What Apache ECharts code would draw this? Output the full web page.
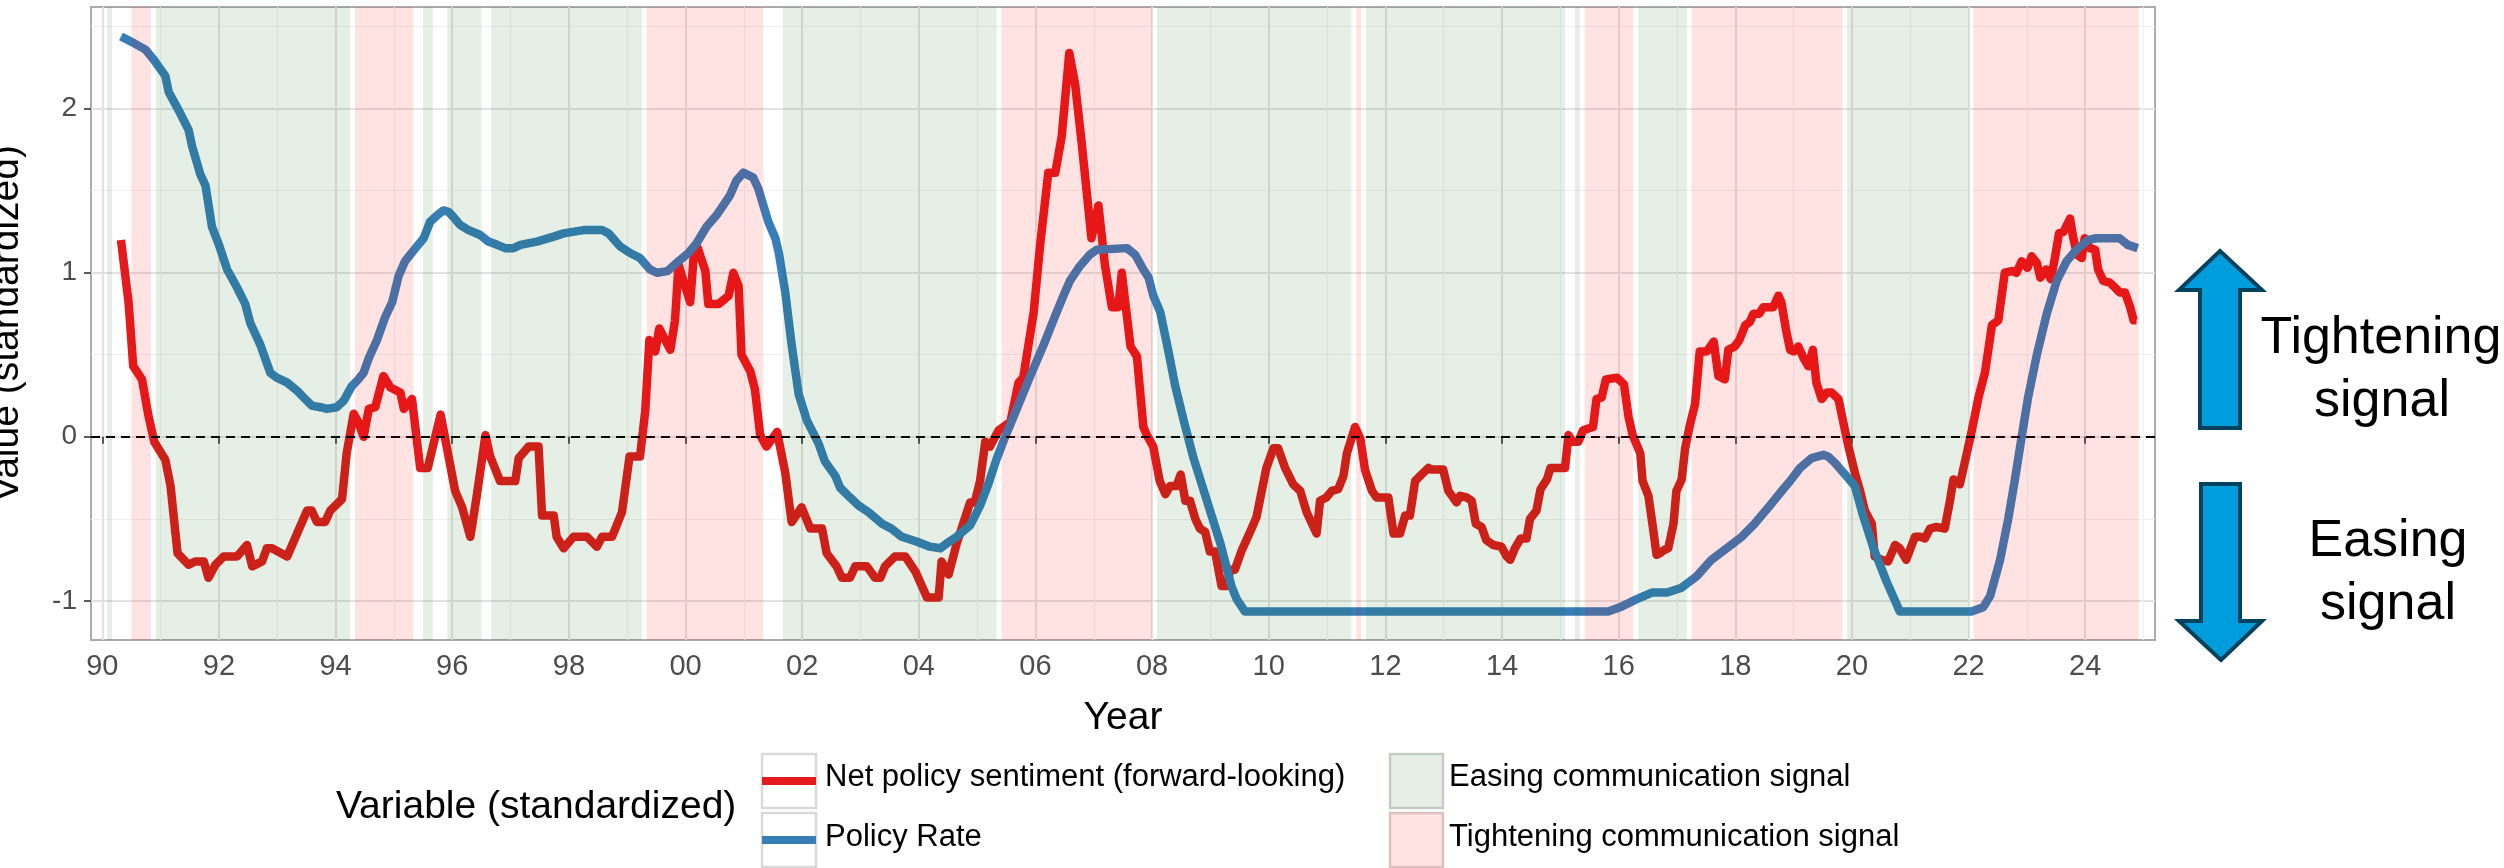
<!DOCTYPE html>
<html>
<head>
<meta charset="utf-8">
<script src="https://cdn.jsdelivr.net/npm/echarts@6/dist/echarts.min.js"></script>
<style>
  html, body { margin: 0; padding: 0; background: #ffffff; }
  #chart { width: 2504px; height: 868px; }
</style>
</head>
<body>
<div id="chart"></div>
<script>
// ---- Net policy sentiment (forward-looking), standardized ----
const sentimentYears = [
  1990.32,1990.45,1990.53,1990.68,1990.79,1990.89,1991.08,1991.17,1991.29,1991.48,1991.59,1991.74,1991.82,1991.94,
  1992.08,1992.31,1992.48,1992.57,1992.74,1992.82,1992.91,1993.17,1993.34,1993.51,1993.59,1993.68,1993.82,1993.91,
  1994.11,1994.19,1994.31,1994.39,1994.48,1994.57,1994.68,1994.82,1994.94,1995.11,1995.17,1995.31,1995.45,1995.58,
  1995.80,1995.91,1996.05,1996.17,1996.31,1996.42,1996.57,1996.65,1996.82,1997.08,1997.14,1997.31,1997.48,1997.54,
  1997.74,1997.79,1997.91,1998.08,1998.31,1998.48,1998.57,1998.74,1998.91,1999.04,1999.22,1999.31,1999.38,1999.48,
  1999.55,1999.74,1999.82,1999.88,1999.99,2000.08,2000.14,2000.21,2000.34,2000.39,2000.57,2000.74,2000.82,2000.91,
  2000.96,2001.11,2001.19,2001.28,2001.39,2001.57,2001.71,2001.82,2001.99,2002.14,2002.34,2002.42,2002.59,2002.68,
  2002.82,2002.91,2003.11,2003.25,2003.34,2003.42,2003.59,2003.77,2003.94,2004.14,2004.34,2004.39,2004.51,2004.65,
  2004.88,2004.96,2005.05,2005.14,2005.22,2005.37,2005.57,2005.71,2005.79,2005.97,2006.08,2006.22,2006.34,2006.45,
  2006.58,2006.68,2006.79,2006.96,2007.08,2007.19,2007.31,2007.42,2007.48,2007.56,2007.63,2007.74,2007.85,2007.91,
  2008.02,2008.13,2008.23,2008.31,2008.42,2008.49,2008.57,2008.65,2008.74,2008.82,2008.91,2008.99,2009.08,2009.19,
  2009.28,2009.34,2009.42,2009.54,2009.68,2009.79,2009.88,2009.96,2010.08,2010.16,2010.28,2010.42,2010.54,2010.65,
  2010.82,2010.88,2010.99,2011.08,2011.19,2011.28,2011.34,2011.48,2011.57,2011.65,2011.77,2011.85,2012.05,2012.14,
  2012.25,2012.34,2012.42,2012.51,2012.62,2012.74,2012.79,2012.99,2013.08,2013.22,2013.28,2013.39,2013.48,2013.55,
  2013.65,2013.73,2013.85,2013.99,2014.08,2014.14,2014.22,2014.32,2014.42,2014.48,2014.59,2014.66,2014.77,2014.83,
  2015.08,2015.14,2015.21,2015.31,2015.39,2015.56,2015.62,2015.71,2015.78,2015.97,2016.09,2016.17,2016.24,2016.37,
  2016.41,2016.51,2016.59,2016.65,2016.71,2016.78,2016.85,2016.94,2016.99,2017.08,2017.14,2017.22,2017.31,2017.39,
  2017.51,2017.63,2017.71,2017.82,2017.88,2017.99,2018.07,2018.17,2018.25,2018.31,2018.41,2018.48,2018.65,2018.74,
  2018.79,2018.87,2018.94,2019.00,2019.08,2019.17,2019.25,2019.33,2019.39,2019.48,2019.57,2019.65,2019.77,2019.85,
  2019.94,2020.05,2020.14,2020.22,2020.34,2020.39,2020.51,2020.62,2020.74,2020.82,2020.93,2021.08,2021.17,2021.25,
  2021.34,2021.45,2021.59,2021.68,2021.74,2021.85,2021.97,2022.05,2022.17,2022.28,2022.40,2022.51,2022.62,2022.74,
  2022.82,2022.91,2023.01,2023.08,2023.17,2023.23,2023.33,2023.41,2023.48,2023.55,2023.63,2023.74,2023.79,2023.86,
  2023.94,2023.99,2024.08,2024.17,2024.22,2024.31,2024.42,2024.51,2024.59,2024.68,2024.77,2024.83,2024.88
];
const sentimentValues = [
  1.20,0.82,0.43,0.35,0.13,-0.03,-0.14,-0.30,-0.71,-0.78,-0.76,-0.76,-0.86,-0.78,
  -0.73,-0.73,-0.66,-0.79,-0.76,-0.68,-0.68,-0.73,-0.59,-0.45,-0.45,-0.52,-0.52,-0.45,
  -0.38,-0.10,0.14,0.09,0.00,0.17,0.18,0.37,0.30,0.27,0.17,0.23,-0.19,-0.19,
  0.135,-0.07,-0.33,-0.43,-0.61,-0.36,0.01,-0.12,-0.27,-0.27,-0.13,-0.06,-0.06,-0.48,
  -0.48,-0.61,-0.68,-0.61,-0.61,-0.67,-0.61,-0.61,-0.46,-0.12,-0.12,0.16,0.59,0.52,
  0.66,0.53,0.71,1.05,0.92,0.82,1.10,1.15,1.01,0.81,0.81,0.86,1.00,0.92,
  0.50,0.40,0.29,0.01,-0.06,0.03,-0.22,-0.52,-0.43,-0.56,-0.56,-0.71,-0.79,-0.86,
  -0.86,-0.79,-0.79,-0.86,-0.86,-0.79,-0.73,-0.73,-0.82,-0.98,-0.98,-0.76,-0.84,-0.65,
  -0.40,-0.40,-0.27,-0.03,-0.06,0.04,0.09,0.33,0.36,0.76,1.17,1.61,1.61,1.83,
  2.34,2.15,1.80,1.21,1.41,1.05,0.79,0.79,1.00,0.76,0.55,0.49,0.06,0.01,
  -0.06,-0.27,-0.35,-0.30,-0.30,-0.23,-0.39,-0.39,-0.50,-0.56,-0.58,-0.70,-0.70,-0.91,
  -0.91,-0.81,-0.81,-0.69,-0.58,-0.49,-0.33,-0.19,-0.07,-0.07,-0.19,-0.29,-0.33,-0.46,
  -0.59,-0.39,-0.37,-0.33,-0.32,-0.24,-0.10,0.06,-0.01,-0.20,-0.33,-0.37,-0.37,-0.59,
  -0.59,-0.48,-0.48,-0.27,-0.23,-0.19,-0.20,-0.20,-0.33,-0.40,-0.36,-0.37,-0.39,-0.53,
  -0.55,-0.63,-0.66,-0.67,-0.73,-0.75,-0.68,-0.62,-0.62,-0.50,-0.45,-0.32,-0.26,-0.19,
  -0.19,0.01,-0.03,-0.03,0.04,0.06,0.23,0.24,0.35,0.36,0.32,0.12,0.01,-0.10,
  -0.27,-0.36,-0.56,-0.72,-0.71,-0.69,-0.68,-0.53,-0.33,-0.26,-0.07,0.07,0.20,0.52,
  0.52,0.58,0.37,0.35,0.53,0.55,0.59,0.68,0.70,0.75,0.75,0.79,0.79,0.86,
  0.82,0.65,0.53,0.52,0.55,0.48,0.43,0.53,0.33,0.23,0.27,0.27,0.23,0.09,
  -0.06,-0.22,-0.33,-0.45,-0.53,-0.73,-0.75,-0.76,-0.66,-0.68,-0.75,-0.61,-0.61,-0.62,
  -0.56,-0.55,-0.56,-0.39,-0.26,-0.29,-0.10,0.03,0.24,0.39,0.68,0.71,1.00,1.01,
  1.00,1.07,1.03,1.10,1.06,0.97,1.02,0.96,1.09,1.24,1.25,1.33,1.22,1.11,
  1.09,1.21,1.15,1.14,1.02,0.95,0.94,0.91,0.88,0.88,0.79,0.71,0.71
];

// ---- Policy rate, standardized ----
const rateYears = [
  1990.32,1990.54,1990.74,1990.88,1991.08,1991.14,1991.31,1991.48,1991.54,1991.68,1991.77,1991.88,1992.00,1992.14,
  1992.31,1992.45,1992.54,1992.71,1992.88,1992.99,1993.17,1993.34,1993.45,1993.59,1993.74,1993.85,1994.02,1994.14,
  1994.28,1994.39,1994.48,1994.57,1994.71,1994.85,1994.97,1995.08,1995.19,1995.37,1995.51,1995.62,1995.74,1995.85,
  1995.94,1996.02,1996.14,1996.28,1996.48,1996.62,1996.77,1996.91,1997.05,1997.17,1997.45,1997.74,1997.91,1998.25,
  1998.57,1998.68,1998.88,1999.05,1999.22,1999.39,1999.51,1999.69,1999.88,2000.05,2000.19,2000.36,2000.53,2000.76,
  2000.87,2000.99,2001.16,2001.25,2001.42,2001.54,2001.60,2001.71,2001.82,2001.94,2002.08,2002.28,2002.39,2002.57,
  2002.65,2002.82,2002.97,2003.14,2003.37,2003.53,2003.71,2003.97,2004.19,2004.37,2004.48,2004.65,2004.88,2005.05,
  2005.19,2005.33,2005.48,2005.68,2005.91,2006.14,2006.33,2006.48,2006.59,2006.76,2006.93,2007.05,2007.57,2007.71,
  2007.85,2007.94,2008.02,2008.14,2008.28,2008.39,2008.54,2008.71,2008.94,2009.17,2009.36,2009.45,2009.59,2015.82,
  2016.02,2016.31,2016.57,2016.83,2017.08,2017.34,2017.59,2017.85,2018.11,2018.33,2018.59,2018.82,2018.94,2019.11,
  2019.31,2019.51,2019.59,2019.71,2019.88,2020.05,2020.19,2020.37,2020.59,2020.82,2022.05,2022.25,2022.37,2022.54,
  2022.68,2022.79,2022.91,2023.02,2023.17,2023.34,2023.51,2023.68,2023.85,2024.05,2024.19,2024.59,2024.73,2024.90
];
const rateValues = [
  2.44,2.40,2.36,2.30,2.20,2.10,1.99,1.87,1.77,1.60,1.53,1.28,1.17,1.02,
  0.91,0.81,0.69,0.56,0.39,0.36,0.33,0.28,0.24,0.19,0.18,0.17,0.18,0.22,
  0.31,0.35,0.39,0.48,0.59,0.73,0.82,0.98,1.07,1.15,1.21,1.31,1.35,1.38,
  1.37,1.34,1.29,1.26,1.23,1.19,1.17,1.15,1.15,1.17,1.19,1.22,1.24,1.26,
  1.26,1.24,1.16,1.12,1.09,1.02,1.00,1.01,1.07,1.12,1.18,1.28,1.35,1.47,
  1.56,1.61,1.58,1.51,1.31,1.21,1.12,0.88,0.56,0.26,0.10,-0.04,-0.15,-0.24,
  -0.31,-0.37,-0.42,-0.46,-0.53,-0.56,-0.61,-0.64,-0.67,-0.68,-0.65,-0.61,-0.54,-0.42,
  -0.29,-0.14,0.00,0.17,0.37,0.56,0.73,0.86,0.95,1.04,1.11,1.14,1.15,1.11,
  1.02,0.97,0.86,0.76,0.52,0.32,0.10,-0.13,-0.39,-0.65,-0.91,-0.99,-1.065,-1.065,
  -1.04,-0.99,-0.95,-0.95,-0.92,-0.85,-0.75,-0.68,-0.61,-0.53,-0.42,-0.32,-0.27,-0.19,
  -0.13,-0.11,-0.12,-0.16,-0.23,-0.30,-0.48,-0.68,-0.88,-1.065,-1.065,-1.04,-0.97,-0.75,
  -0.50,-0.27,0.00,0.24,0.50,0.75,0.95,1.07,1.14,1.20,1.21,1.21,1.17,1.15
];

// ---- Communication signal periods (start, end in decimal years) ----
const easingStarts     = [1990.083,1990.917,1995.500,1995.917,1996.667,2001.667,2008.083,2011.667,2015.250,2016.333,2019.917];
const easingEnds       = [1990.167,1994.250,1995.667,1996.500,1999.250,2005.333,2011.417,2015.083,2015.333,2017.167,2022.000];
const tighteningStarts = [1990.500,1994.333,1999.333,2005.417,2011.500,2015.417,2017.250,2022.083];
const tighteningEnds   = [1990.833,1995.333,2001.333,2008.000,2011.583,2016.250,2019.833,2024.917];

// ---- Axis ticks ----
const yearTicks  = [1990,1992,1994,1996,1998,2000,2002,2004,2006,2008,2010,2012,2014,2016,2018,2020,2022,2024];
const valueTicks = [-1, 0, 1, 2];

const FONT = '"Liberation Sans", Arial, Helvetica, sans-serif';
const RED = '#E41A1C';
const BLUE = '#377EB8';
const EASE_FILL = 'rgba(0,100,0,0.10)';
const TIGHT_FILL = 'rgba(255,0,0,0.11)';
const LINE_W = 8.5;

const zip = (xs, ys) => xs.map((x, i) => [x, ys[i]]);
const bandData = (s, e) => s.map((v, i) => [v, e[i]]);

// Shaded periods span the full panel height and sit above the lines (tinting them).
function bandRenderer(fill) {
  return function (params, api) {
    const a = api.coord([api.value(0), 0]);
    const b = api.coord([api.value(1), 0]);
    const cs = params.coordSys;
    return {
      type: 'rect',
      shape: { x: a[0], y: cs.y, width: b[0] - a[0], height: cs.height },
      style: { fill: fill }
    };
  };
}

const chart = echarts.init(document.getElementById('chart'), null, { renderer: 'canvas' });

const legendX1 = 762, legendX2 = 1390, row1 = 754, row2 = 813, key = 54;

chart.setOption({
  animation: false,
  backgroundColor: '#ffffff',
  textStyle: { fontFamily: FONT },
  grid: {
    left: 91, top: 7, width: 2064, height: 633,
    containLabel: false, outerBoundsMode: 'none',
    show: true, backgroundColor: '#ffffff', borderColor: '#ABABAB', borderWidth: 2
  },
  xAxis: {
    type: 'value', min: 1989.806, max: 2025.196, splitNumber: 17,
    axisLine: { show: false },
    axisTick: { show: true, customValues: yearTicks, length: 7, lineStyle: { color: '#333333', width: 1.6 } },
    axisLabel: {
      customValues: yearTicks, margin: 12, fontSize: 29, color: '#4D4D4D', fontFamily: FONT,
      formatter: v => String(Math.round(v) % 100).padStart(2, '0')
    },
    splitLine: { show: true, lineStyle: { color: '#E2E2E2', width: 2 } },
    minorTick: { show: false, splitNumber: 2 },
    minorSplitLine: { show: true, lineStyle: { color: '#F1F1F1', width: 1.2 } },
    name: 'Year', nameLocation: 'middle', nameGap: 59,
    nameTextStyle: { fontSize: 39, color: '#000000', fontFamily: FONT }
  },
  yAxis: {
    type: 'value', min: -1.239, max: 2.62, splitNumber: 4,
    axisLine: { show: false },
    axisTick: { show: true, customValues: valueTicks, length: 7, lineStyle: { color: '#333333', width: 1.6 } },
    axisLabel: { customValues: valueTicks, margin: 14, fontSize: 28, color: '#4D4D4D', fontFamily: FONT },
    splitLine: { show: true, lineStyle: { color: '#E2E2E2', width: 2 } },
    minorTick: { show: false, splitNumber: 2 },
    minorSplitLine: { show: true, lineStyle: { color: '#F1F1F1', width: 1.2 } },
    name: 'Value (standardized)', nameLocation: 'middle', nameGap: 64,
    nameTextStyle: { fontSize: 39, color: '#000000', fontFamily: FONT }
  },
  series: [
    {
      name: 'Net policy sentiment (forward-looking)',
      type: 'line', z: 2, showSymbol: false, symbol: 'none',
      data: zip(sentimentYears, sentimentValues),
      lineStyle: { color: RED, width: LINE_W, join: 'round', cap: 'butt' },
      markLine: {
        silent: true, symbol: 'none', label: { show: false },
        lineStyle: { color: '#000000', width: 2, type: [9, 6] },
        data: [{ yAxis: 0 }]
      }
    },
    {
      name: 'Policy Rate',
      type: 'line', z: 3, showSymbol: false, symbol: 'none',
      data: zip(rateYears, rateValues),
      lineStyle: { color: BLUE, width: LINE_W, join: 'round', cap: 'butt' }
    },
    {
      name: 'Easing communication signal',
      type: 'custom', z: 6, silent: true,
      data: bandData(easingStarts, easingEnds),
      encode: { x: [0, 1] },
      renderItem: bandRenderer(EASE_FILL)
    },
    {
      name: 'Tightening communication signal',
      type: 'custom', z: 6, silent: true,
      data: bandData(tighteningStarts, tighteningEnds),
      encode: { x: [0, 1] },
      renderItem: bandRenderer(TIGHT_FILL)
    }
  ],
  graphic: [
    // legend
    { type: 'text', left: 336, top: 807 - 19.5,
      style: { text: 'Variable (standardized)', font: '39px ' + FONT, fill: '#000000' } },
    { type: 'rect', shape: { x: legendX1, y: row1, width: key, height: key },
      style: { fill: '#ffffff', stroke: '#D9D9D9', lineWidth: 2.5 } },
    { type: 'line', shape: { x1: legendX1, y1: row1 + 27, x2: legendX1 + key, y2: row1 + 27 },
      style: { stroke: RED, lineWidth: 8 } },
    { type: 'rect', shape: { x: legendX1, y: row2, width: key, height: key },
      style: { fill: '#ffffff', stroke: '#D9D9D9', lineWidth: 2.5 } },
    { type: 'line', shape: { x1: legendX1, y1: row2 + 27, x2: legendX1 + key, y2: row2 + 27 },
      style: { stroke: BLUE, lineWidth: 8 } },
    { type: 'text', left: 825, top: 777 - 15.5,
      style: { text: 'Net policy sentiment (forward-looking)', font: '31px ' + FONT, fill: '#000000' } },
    { type: 'text', left: 825, top: 837 - 15.5,
      style: { text: 'Policy Rate', font: '31px ' + FONT, fill: '#000000' } },
    { type: 'rect', shape: { x: legendX2, y: row1, width: 53, height: key },
      style: { fill: '#ffffff', stroke: '#D9D9D9', lineWidth: 2.5 } },
    { type: 'rect', shape: { x: legendX2 - 1, y: row1 - 1, width: 55, height: key + 2 },
      style: { fill: EASE_FILL } },
    { type: 'rect', shape: { x: legendX2, y: row2, width: 53, height: key },
      style: { fill: '#ffffff', stroke: '#D9D9D9', lineWidth: 2.5 } },
    { type: 'rect', shape: { x: legendX2 - 1, y: row2 - 1, width: 55, height: key + 2 },
      style: { fill: TIGHT_FILL } },
    { type: 'text', left: 1449, top: 777 - 15.5,
      style: { text: 'Easing communication signal', font: '31px ' + FONT, fill: '#000000' } },
    { type: 'text', left: 1449, top: 837 - 15.5,
      style: { text: 'Tightening communication signal', font: '31px ' + FONT, fill: '#000000' } },

    // direction arrows
    { type: 'polygon',
      shape: { points: [[2220, 251], [2262, 290], [2240, 290], [2240, 428], [2200, 428], [2200, 290], [2179, 290]] },
      style: { fill: '#009DDC', stroke: '#00425E', lineWidth: 4, lineJoin: 'miter' } },
    { type: 'polygon',
      shape: { points: [[2201, 484], [2240, 484], [2240, 621], [2262, 621], [2221, 660], [2179, 621], [2201, 621]] },
      style: { fill: '#009DDC', stroke: '#00425E', lineWidth: 4, lineJoin: 'miter' } },
    { type: 'text', x: 2381, y: 339,
      style: { text: 'Tightening', font: '52px ' + FONT, fill: '#000000', textAlign: 'center', textVerticalAlign: 'middle' } },
    { type: 'text', x: 2382, y: 402,
      style: { text: 'signal', font: '52px ' + FONT, fill: '#000000', textAlign: 'center', textVerticalAlign: 'middle' } },
    { type: 'text', x: 2388, y: 542,
      style: { text: 'Easing', font: '52px ' + FONT, fill: '#000000', textAlign: 'center', textVerticalAlign: 'middle' } },
    { type: 'text', x: 2388, y: 605,
      style: { text: 'signal', font: '52px ' + FONT, fill: '#000000', textAlign: 'center', textVerticalAlign: 'middle' } }
  ]
});
</script>
</body>
</html>
